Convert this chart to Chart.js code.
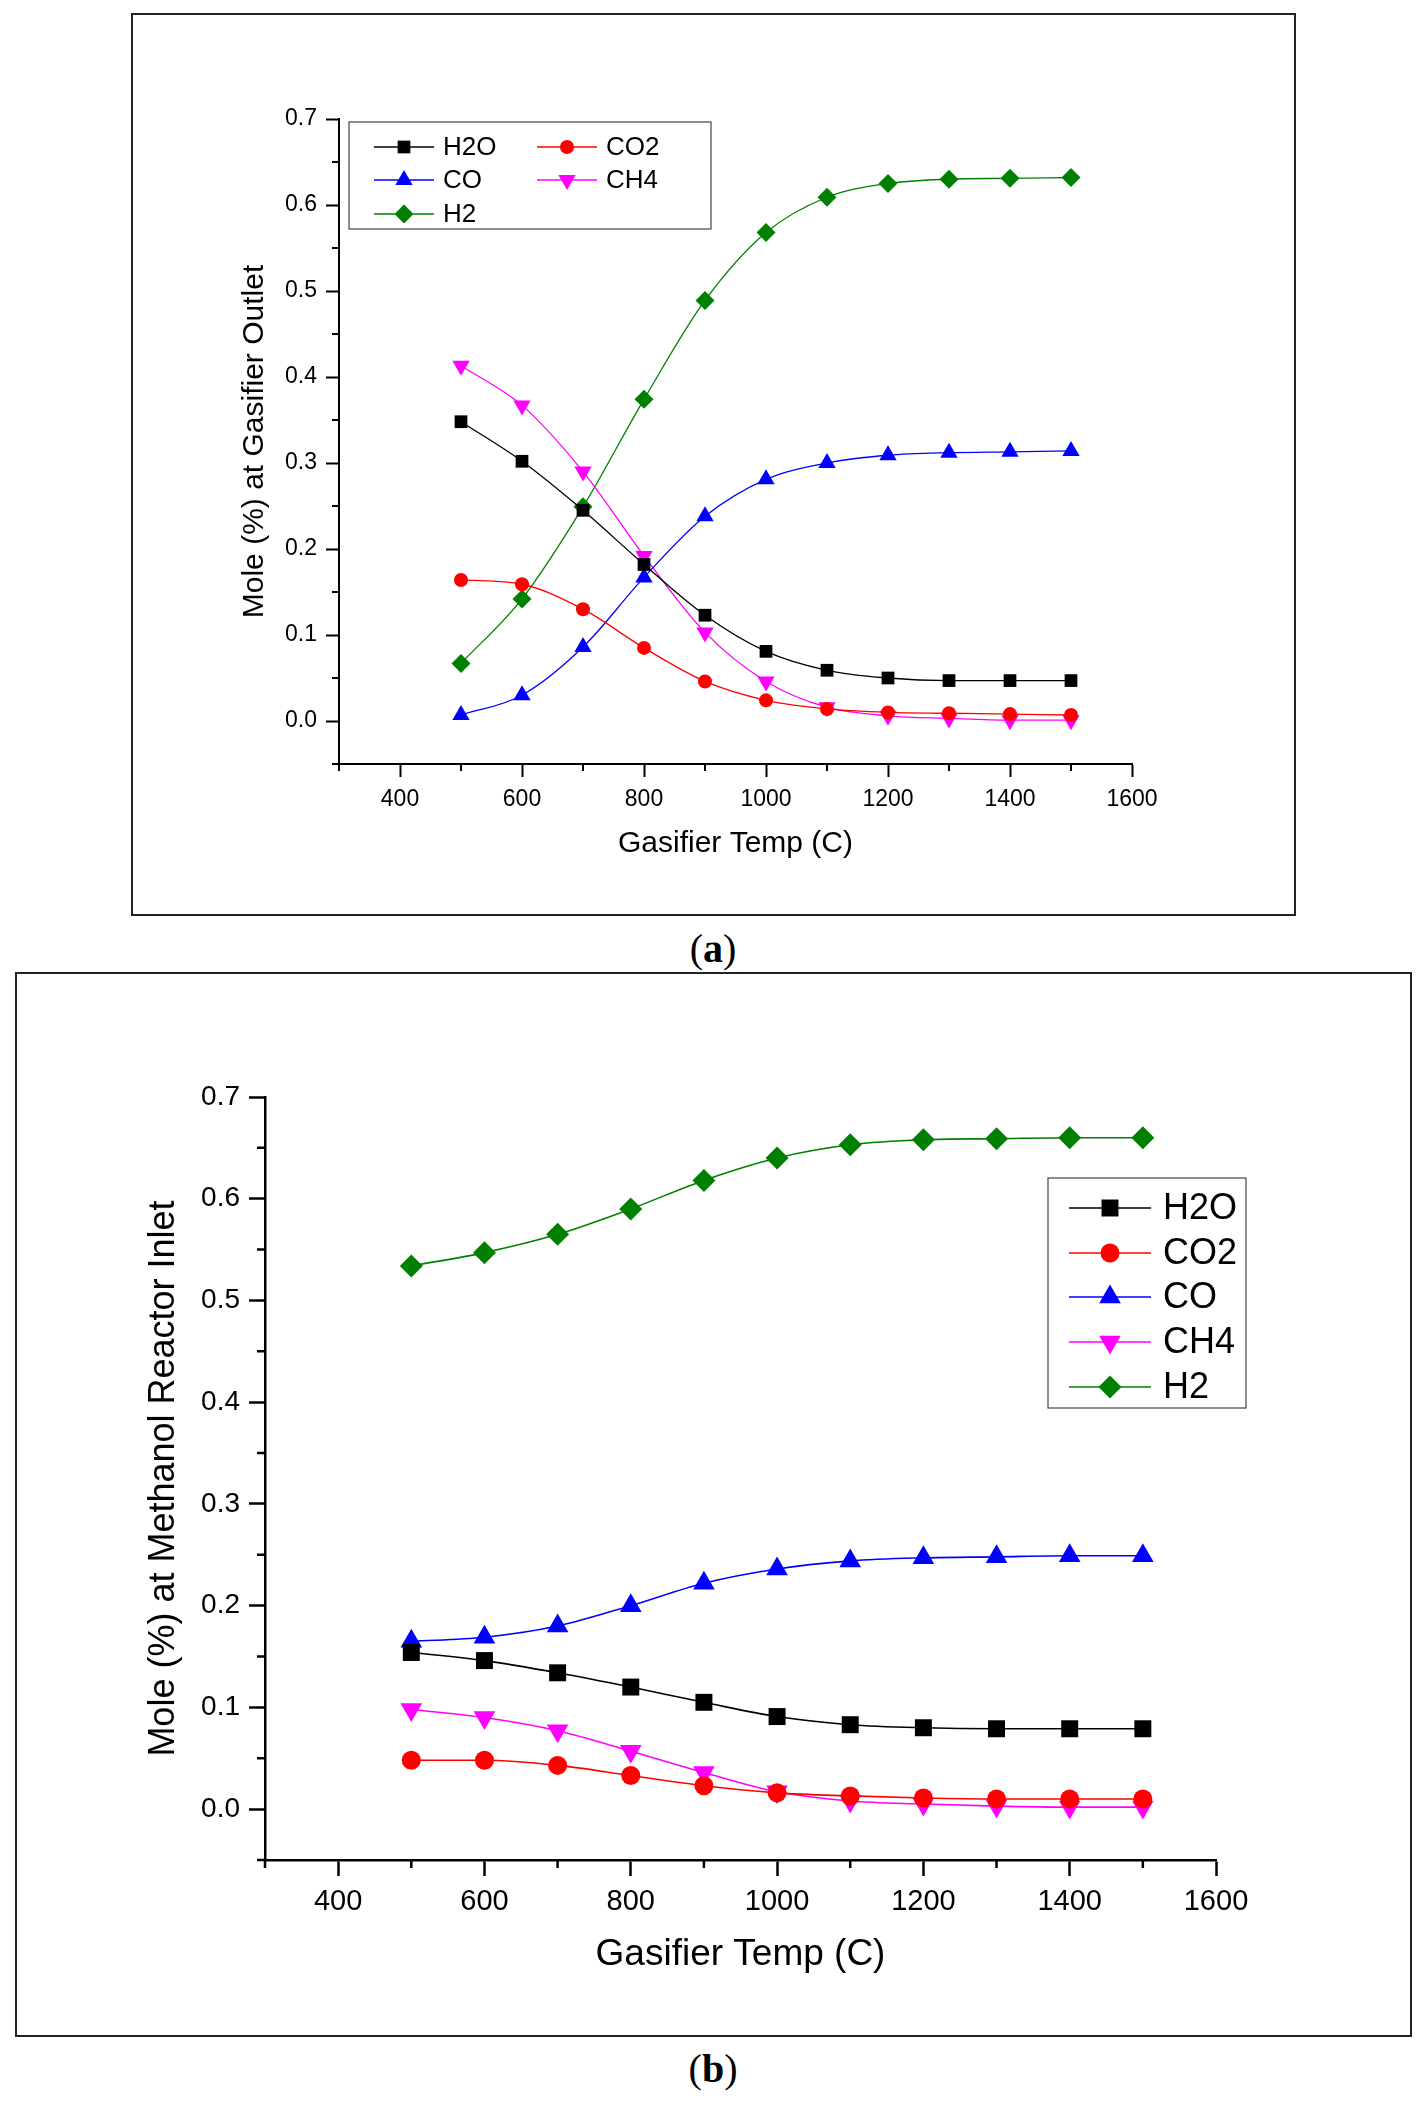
<!DOCTYPE html>
<html>
<head>
<meta charset="utf-8">
<title>Gasifier composition</title>
<script src="https://cdn.jsdelivr.net/npm/chart.js@4.4.1/dist/chart.umd.min.js"></script>
<style>
    html, body { margin: 0; padding: 0; background: #fff; }
    body { width: 1425px; height: 2105px; position: relative; overflow: hidden; }
    .panel { position: absolute; }
    .frame { position: absolute; border: 2px solid #222; box-sizing: border-box; pointer-events: none; }
    .label { position: absolute; transform: translate(-50%, -50%); font-family: 'Liberation Serif', 'Times New Roman', serif; font-size: 40px; color: #000; }
</style>
</head>
<body>

<div class="panel" style="left:132px; top:14px;"><canvas id="chartA" width="1163" height="901"></canvas></div>
<div class="frame" style="left:131px; top:13px; width:1165px; height:903px;"></div>
<div class="label" style="left:713px; top:948px;">(<b>a</b>)</div>

<div class="panel" style="left:16px; top:973px;"><canvas id="chartB" width="1395" height="1063"></canvas></div>
<div class="frame" style="left:15px; top:972px; width:1397px; height:1065px;"></div>
<div class="label" style="left:713px; top:2068px;">(<b>b</b>)</div>

<script>
    // Gasifier temperatures (C)
    const temps = [500, 600, 700, 800, 900, 1000, 1100, 1200, 1300, 1400, 1500];

    // (a) mole fraction at gasifier outlet
    const outletH2O = [0.348, 0.302, 0.245, 0.182, 0.123, 0.081, 0.059, 0.050, 0.047, 0.047, 0.047];
    const outletCO2 = [0.164, 0.159, 0.130, 0.085, 0.046, 0.024, 0.014, 0.010, 0.009, 0.008, 0.007];
    const outletCO  = [0.007, 0.030, 0.086, 0.167, 0.238, 0.281, 0.300, 0.309, 0.312, 0.313, 0.314];
    const outletCH4 = [0.413, 0.367, 0.290, 0.192, 0.103, 0.046, 0.016, 0.006, 0.003, 0.001, 0.001];
    const outletH2  = [0.067, 0.142, 0.249, 0.374, 0.489, 0.568, 0.609, 0.625, 0.630, 0.631, 0.632];

    // (b) mole fraction at methanol reactor inlet
    const inletH2O = [0.154, 0.146, 0.134, 0.120, 0.105, 0.091, 0.083, 0.080, 0.079, 0.079, 0.079];
    const inletCO2 = [0.048, 0.048, 0.043, 0.033, 0.023, 0.016, 0.013, 0.011, 0.010, 0.010, 0.010];
    const inletCO  = [0.165, 0.169, 0.180, 0.200, 0.222, 0.236, 0.244, 0.247, 0.248, 0.249, 0.249];
    const inletCH4 = [0.098, 0.090, 0.077, 0.057, 0.036, 0.017, 0.008, 0.005, 0.003, 0.002, 0.002];
    const inletH2  = [0.534, 0.547, 0.565, 0.590, 0.618, 0.640, 0.653, 0.658, 0.659, 0.660, 0.660];

    // Axis ticks
    const xTicks = [400, 600, 800, 1000, 1200, 1400, 1600];
    const xMinorTicks = [300, 500, 700, 900, 1100, 1300, 1500];
    const yTicks = [0, 0.1, 0.2, 0.3, 0.4, 0.5, 0.6, 0.7];
    const yMinorTicks = [-0.05, 0.05, 0.15, 0.25, 0.35, 0.45, 0.55, 0.65];

    const FONT = "'Liberation Sans', Arial, sans-serif";

    // Short ticks between the labelled ones
    const minorTicks = {
        id: 'minorTicks',
        afterDraw(chart, args, opts) {
            const ctx = chart.ctx;
            const x = chart.scales.x;
            const y = chart.scales.y;
            ctx.save();
            ctx.strokeStyle = '#000';
            ctx.lineWidth = opts.width;
            ctx.beginPath();
            xMinorTicks.forEach(v => {
                const px = x.getPixelForValue(v);
                ctx.moveTo(px, x.top);
                ctx.lineTo(px, x.top + opts.length);
            });
            yMinorTicks.forEach(v => {
                const py = y.getPixelForValue(v);
                ctx.moveTo(y.right, py);
                ctx.lineTo(y.right - opts.length, py);
            });
            ctx.stroke();
            ctx.restore();
        }
    };

    // Origin style legend: line with the marker on it
    const lineLegend = {
        id: 'lineLegend',
        afterDraw(chart, args, opts) {
            const ctx = chart.ctx;
            ctx.save();
            ctx.strokeStyle = '#444';
            ctx.lineWidth = 1.2;
            ctx.strokeRect(opts.box[0], opts.box[1], opts.box[2], opts.box[3]);
            chart.data.datasets.forEach((ds, i) => {
                const [lx, ly] = opts.slots[i];
                ctx.strokeStyle = ds.borderColor;
                ctx.lineWidth = ds.borderWidth;
                ctx.beginPath();
                ctx.moveTo(lx, ly);
                ctx.lineTo(lx + opts.lineLength, ly);
                ctx.stroke();
                ctx.fillStyle = ds.pointBackgroundColor;
                Chart.helpers.drawPoint(ctx, {
                    pointStyle: ds.pointStyle,
                    radius: ds.pointRadius,
                    rotation: ds.pointRotation || 0,
                    borderWidth: 0
                }, lx + opts.lineLength / 2, ly);
                ctx.fillStyle = '#000';
                ctx.font = opts.fontSize + 'px ' + FONT;
                ctx.textBaseline = 'middle';
                ctx.textAlign = 'left';
                ctx.fillText(ds.label, lx + opts.lineLength + opts.gap, ly + 1);
            });
            ctx.restore();
        }
    };

    function makeDataset(label, values, color, style, radius, lineWidth, rotation) {
        return {
            label: label,
            data: temps.map((t, i) => ({ x: t, y: values[i] })),
            borderColor: color,
            backgroundColor: color,
            pointBackgroundColor: color,
            pointBorderColor: color,
            pointBorderWidth: 0,
            pointStyle: style,
            pointRadius: radius,
            pointRotation: rotation || 0,
            borderWidth: lineWidth,
            cubicInterpolationMode: 'monotone',
            fill: false
        };
    }

    function makeScales(s) {
        return {
            x: {
                type: 'linear',
                min: 300,
                max: 1600,
                afterBuildTicks: scale => { scale.ticks = xTicks.map(v => ({ value: v })); },
                afterFit: scale => { scale.height = s.xHeight; },
                border: { display: true, color: '#000', width: s.axisWidth },
                grid: { display: true, drawOnChartArea: false, drawTicks: true, tickLength: s.tickLength, tickWidth: s.axisWidth, tickColor: '#000' },
                ticks: { color: '#000', font: { family: FONT, size: s.xTickSize }, padding: s.tickPad, maxRotation: 0, autoSkip: false, callback: v => String(v) },
                title: { display: true, text: 'Gasifier Temp (C)', color: '#000', font: { family: FONT, size: s.xTitleSize }, padding: 0 }
            },
            y: {
                type: 'linear',
                min: -0.05,
                max: 0.7,
                afterBuildTicks: scale => { scale.ticks = yTicks.map(v => ({ value: v })); },
                afterFit: scale => { scale.width = s.yWidth; },
                border: { display: true, color: '#000', width: s.axisWidth },
                grid: { display: true, drawOnChartArea: false, drawTicks: true, tickLength: s.tickLength, tickWidth: s.axisWidth, tickColor: '#000' },
                ticks: { color: '#000', font: { family: FONT, size: s.yTickSize }, padding: s.tickPad, autoSkip: false, callback: v => v.toFixed(1) },
                title: { display: true, text: s.yTitle, color: '#000', font: { family: FONT, size: s.yTitleSize }, padding: 0 }
            }
        };
    }

    // Panel (a)
    new Chart(document.getElementById('chartA'), {
        type: 'line',
        data: {
            datasets: [
                makeDataset('H2O', outletH2O, '#000000', 'rect', 9, 1.3),
                makeDataset('CO2', outletCO2, '#ff0000', 'circle', 7, 1.3),
                makeDataset('CO', outletCO, '#0000ff', 'triangle', 10, 1.3),
                makeDataset('CH4', outletCH4, '#ff00ff', 'triangle', 10, 1.3, 180),
                makeDataset('H2', outletH2, '#008000', 'rectRot', 9.5, 1.3)
            ]
        },
        options: {
            responsive: false,
            animation: false,
            devicePixelRatio: 1,
            layout: { padding: { left: 105, right: 163, top: 105, bottom: 53 } },
            scales: makeScales({
                xHeight: 98, yWidth: 102, axisWidth: 2, tickLength: 13, tickPad: 9,
                xTickSize: 23, yTickSize: 23, xTitleSize: 30, yTitleSize: 30,
                yTitle: 'Mole (%) at Gasifier Outlet'
            }),
            plugins: {
                legend: { display: false },
                tooltip: { enabled: false },
                minorTicks: { length: 7, width: 2 },
                lineLegend: {
                    box: [217, 108, 362, 107],
                    slots: [[242, 133], [405, 133], [242, 166], [405, 166], [242, 200]],
                    lineLength: 60, gap: 9, fontSize: 26
                }
            }
        },
        plugins: [minorTicks, lineLegend]
    });

    // Panel (b)
    new Chart(document.getElementById('chartB'), {
        type: 'line',
        data: {
            datasets: [
                makeDataset('H2O', inletH2O, '#000000', 'rect', 12, 1.6),
                makeDataset('CO2', inletCO2, '#ff0000', 'circle', 9.5, 1.6),
                makeDataset('CO', inletCO, '#0000ff', 'triangle', 12.5, 1.6),
                makeDataset('CH4', inletCH4, '#ff00ff', 'triangle', 12.5, 1.6, 180),
                makeDataset('H2', inletH2, '#008000', 'rectRot', 11.5, 1.6)
            ]
        },
        options: {
            responsive: false,
            animation: false,
            devicePixelRatio: 1,
            layout: { padding: { left: 126, right: 195, top: 124, bottom: 59 } },
            scales: makeScales({
                xHeight: 117, yWidth: 123, axisWidth: 2.5, tickLength: 16, tickPad: 9,
                xTickSize: 29, yTickSize: 28, xTitleSize: 37, yTitleSize: 36,
                yTitle: 'Mole (%) at Methanol Reactor Inlet'
            }),
            plugins: {
                legend: { display: false },
                tooltip: { enabled: false },
                minorTicks: { length: 8, width: 2.5 },
                lineLegend: {
                    box: [1032, 205, 198, 230],
                    slots: [[1053, 235], [1053, 280], [1053, 324], [1053, 369], [1053, 414]],
                    lineLength: 82, gap: 12, fontSize: 36
                }
            }
        },
        plugins: [minorTicks, lineLegend]
    });
</script>
</body>
</html>
